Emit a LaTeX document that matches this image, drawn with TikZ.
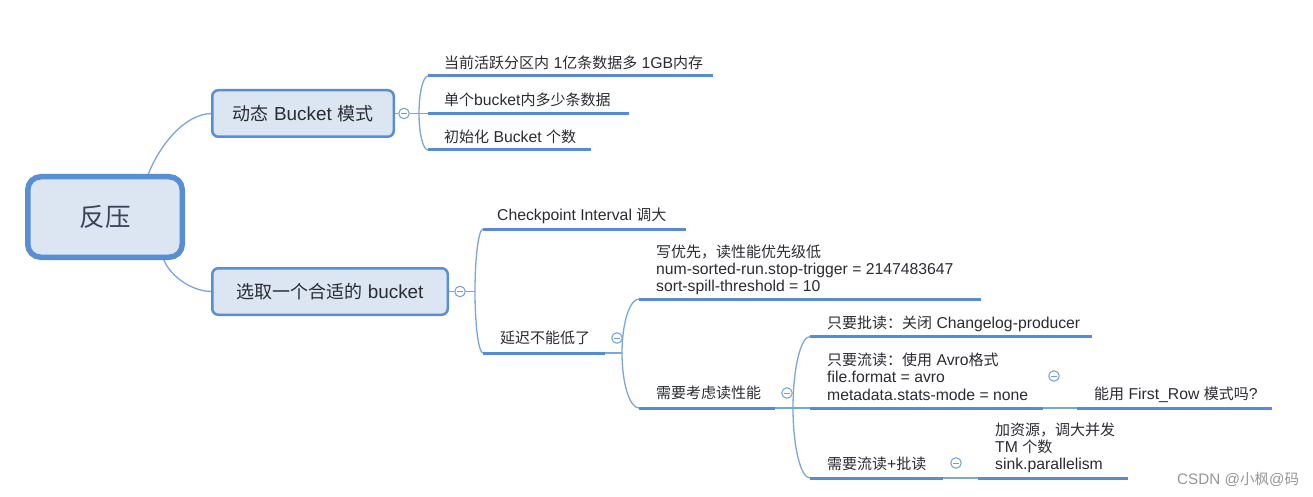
\documentclass[tikz,border=0pt]{standalone}
\usepackage{fontspec}
\setmainfont{Liberation Sans}[Scale=1.05]
\newfontfamily\cjk{Noto Sans CJK SC}
\usetikzlibrary{calc}
\definecolor{boxfill}{RGB}{220,230,243}
\definecolor{boxline}{RGB}{88,142,212}
\definecolor{ulc}{RGB}{86,140,214}
\definecolor{conc}{RGB}{122,166,222}
\definecolor{foldc}{RGB}{110,158,220}
\definecolor{txt}{RGB}{42,44,50}
\definecolor{roottxt}{RGB}{58,68,88}
\definecolor{wm}{RGB}{150,150,150}
\tikzset{
  rootbox/.style={draw=boxline, fill=boxfill, line width=5.5pt, rounded corners=13pt,
    minimum width=154.5pt, minimum height=80.5pt, inner sep=0pt,
    font=\fontsize{25.5}{30}\selectfont\cjk, text=roottxt, text height=22.4pt, text depth=3.1pt},
  topicbox/.style={draw=boxline, fill=boxfill, line width=2.5pt, rounded corners=6pt,
    minimum height=46.5pt, inner sep=0pt, font=\fontsize{18}{21}\selectfont,
    text=txt, text height=15.8pt, text depth=2.2pt},
  leaf/.style={anchor=west, inner sep=0pt, font=\fontsize{15}{17}\selectfont,
    text=txt, text height=13.2pt, text depth=1.8pt},
  uline/.style={draw=ulc, line width=3pt},
  conn/.style={draw=conc, line width=1.3pt},
  fold/.style={circle, draw=foldc, fill=white, line width=1pt, minimum size=10.5pt,
    inner sep=0pt, path picture={\draw[foldc, line width=0.8pt]
      ([xshift=-2.6pt]path picture bounding box.center) --
      ([xshift=2.6pt]path picture bounding box.center);}},
  watermark/.style={anchor=west, inner sep=0pt, font=\fontsize{14.5}{17}\selectfont,
    text=wm, text height=12.8pt, text depth=1.7pt}
}
\newcommand\brk[2]{\draw[conn] (#1) .. controls ($(#1)!0.552!(#1|-#2)$) and ($(#2)!0.552!(#1|-#2)$) .. (#2);}
\begin{document}
\begin{tikzpicture}[x=1pt,y=-1pt]
\useasboundingbox (0,0) rectangle (1313,497);
\fill[white] (0,0) rectangle (1313,497);

% ---------- coordinates of underline ends and bracket stubs ----------
\coordinate (u11s) at (428,76);    \coordinate (u11e) at (713,76);
\coordinate (u12s) at (428,113.5); \coordinate (u12e) at (629,113.5);
\coordinate (u13s) at (428,150);   \coordinate (u13e) at (591,150);
\coordinate (s1) at (419,113.5);

\coordinate (u21s) at (483,229);   \coordinate (u21e) at (686,229);
\coordinate (u22s) at (483,353);   \coordinate (u22e) at (605,353);
\coordinate (s2) at (475,291.5);

\coordinate (u23s) at (639,299);   \coordinate (u23e) at (981,299);
\coordinate (u24s) at (639,408);   \coordinate (u24e) at (775,408);
\coordinate (s3) at (622,353);

\coordinate (u25s) at (810,336.5); \coordinate (u25e) at (1092,336.5);
\coordinate (u26s) at (810,408);   \coordinate (u26e) at (1043,408);
\coordinate (u27s) at (1077,408);  \coordinate (u27e) at (1272,408);
\coordinate (u28s) at (810,478);   \coordinate (u28e) at (943,478);
\coordinate (u29s) at (978,478);   \coordinate (u29e) at (1128,478);
\coordinate (s4) at (793,408);

% ---------- main boxes ----------
\coordinate (rtop) at (147,177.5);
\coordinate (rbot) at (163,257.5);
\draw[conn] (rtop) .. controls (159,145) and (185,113.5) .. (212,113.5);
\draw[conn] (rbot) .. controls (168,274) and (190,291.5) .. (212,291.5);

\node[rootbox] (root) at (105,217) {反压};
\node[topicbox, minimum width=181.5pt] (n1) at (303,113.5) {{\cjk 动态} Bucket {\cjk 模式}};
\node[topicbox, minimum width=235.5pt] (n2) at (330,291.5) {{\cjk 选取一个合适的} bucket};

% ---------- fold markers ----------
\node[fold] (c1) at (404,113.5) {};
\node[fold] (c2) at (460,291.5) {};
\node[fold] (c3) at (617,338) {};
\node[fold] (c4) at (787,393) {};
\node[fold] (c5) at (1054,376) {};
\node[fold] (c6) at (956,463) {};

% ---------- branch connectors ----------
\draw[conn] (n1.east) -- (c1.west);
\draw[conn] (c1.east) -- (u12s);
\brk{s1}{u11s}
\brk{s1}{u13s}

\draw[conn] (n2.east) -- (c2.west);
\draw[conn] (c2.east) -- (s2);
\brk{s2}{u21s}
\brk{s2}{u22s}

\draw[conn] (u22e) -- (s3);
\brk{s3}{u23s}
\brk{s3}{u24s}

\draw[conn] (u24e) -- (u26s);
\brk{s4}{u25s}
\brk{s4}{u28s}

\draw[conn] (u26e) -- (u27s);
\draw[conn] (u28e) -- (u29s);

% ---------- underlines ----------
\foreach \u in {u11,u12,u13,u21,u22,u23,u24,u25,u26,u27,u28,u29}
  \draw[uline] (\u s) -- (\u e);

% ---------- leaf texts ----------
\node[leaf] (t11) at (444,63) {{\cjk 当前活跃分区内} 1{\cjk 亿条数据多} 1GB{\cjk 内存}};
\node[leaf] (t12) at (444,100) {{\cjk 单个}bucket{\cjk 内多少条数据}};
\node[leaf] (t13) at (444,137) {{\cjk 初始化} Bucket {\cjk 个数}};

\node[leaf] (t21) at (497,215) {Checkpoint Interval {\cjk 调大}};
\node[leaf] (t22) at (500,338) {{\cjk 延迟不能低了}};

\node[leaf] (t23a) at (656,252) {{\cjk 写优先，读性能优先级低}};
\node[leaf] (t23b) at (656,269) {num-sorted-run.stop-trigger = 2147483647};
\node[leaf] (t23c) at (656,286) {sort-spill-threshold = 10};
\node[leaf] (t24) at (656,393) {{\cjk 需要考虑读性能}};

\node[leaf] (t25) at (827,323) {{\cjk 只要批读：关闭} Changelog-producer};
\node[leaf] (t26a) at (827,360) {{\cjk 只要流读：使用} Avro{\cjk 格式}};
\node[leaf] (t26b) at (827,377) {file.format = avro};
\node[leaf] (t26c) at (827,395) {metadata.stats-mode = none};
\node[leaf] (t27) at (1094,394) {{\cjk 能用} First\_Row {\cjk 模式吗}?};
\node[leaf] (t28) at (827,464) {{\cjk 需要流读}+{\cjk 批读}};
\node[leaf] (t29a) at (995,430) {{\cjk 加资源，调大并发}};
\node[leaf] (t29b) at (995,447) {TM {\cjk 个数}};
\node[leaf] (t29c) at (995,464) {sink.parallelism};

\node[watermark] (wm) at (1177,479) {CSDN @{\cjk 小枫}@{\cjk 码}};
\end{tikzpicture}
\end{document}
